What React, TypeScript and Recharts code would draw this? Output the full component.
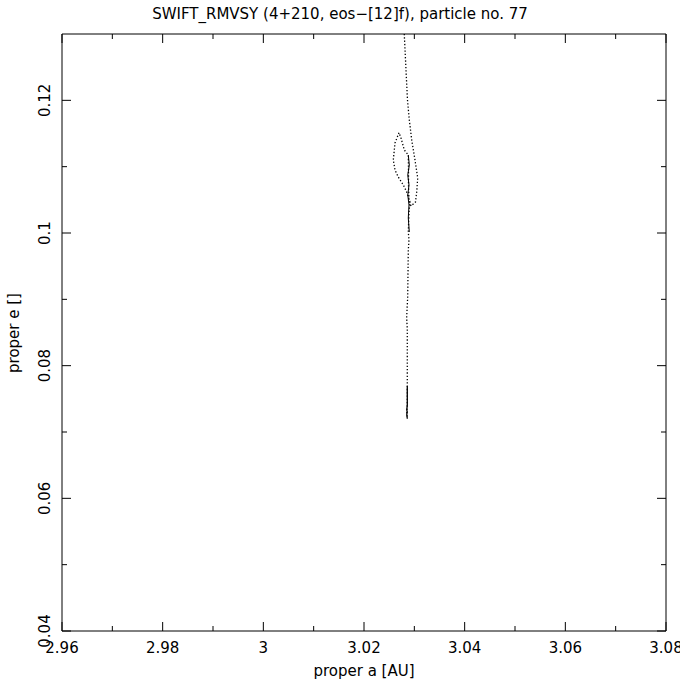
import React from 'react';
import { LineChart, Line, XAxis, YAxis, Label } from 'recharts';

const titleText = 'SWIFT_RMVSY (4+210, eos\u2212[12]f), particle no. 77';
const xAxisTitle = 'proper a [AU]';
const yAxisTitle = 'proper e []';

const xMajorTicks = [2.96, 2.98, 3.0, 3.02, 3.04, 3.06, 3.08];
const xMajorLabels = ['2.96', '2.98', '3', '3.02', '3.04', '3.06', '3.08'];
const xMinorTicks = [2.97, 2.99, 3.01, 3.03, 3.05, 3.07];
const yMajorTicks = [0.04, 0.06, 0.08, 0.1, 0.12];
const yMajorLabels = ['0.04', '0.06', '0.08', '0.1', '0.12'];
const yMinorTicks = [0.05, 0.07, 0.09, 0.11];

// proper a / proper e trajectory (dotted)
const trackA = [
  3.028, 3.02825, 3.02844, 3.02864, 3.029, 3.02948, 3.03013, 3.03067, 3.03047, 3.03023,
  3.02934, 3.02894, 3.02884, 3.02884, 3.0288, 3.02801, 3.02735, 3.02695, 3.02616, 3.02582,
  3.02616, 3.02681, 3.02781, 3.02848, 3.02914, 3.02894, 3.0288, 3.02894, 3.0288, 3.02868,
  3.02848, 3.0286, 3.0286, 3.0286, 3.0285, 3.0286,
];
const trackE = [
  0.13, 0.12608, 0.12307, 0.12005, 0.11704, 0.11402, 0.11101, 0.10829, 0.10618, 0.10467,
  0.10407, 0.10498, 0.10724, 0.1095, 0.11176, 0.11251, 0.11432, 0.11512, 0.11357, 0.11101,
  0.1095, 0.10844, 0.10724, 0.10618, 0.10467, 0.10317, 0.10015, 0.09894, 0.09744, 0.09035,
  0.08734, 0.08538, 0.07693, 0.07407, 0.07302, 0.07211,
];

// densely sampled stretches (appear solid)
const denseMidA = [3.0288, 3.029, 3.0287, 3.02894, 3.0287, 3.02894, 3.0288, 3.029];
const denseMidE = [0.11176, 0.11025, 0.10874, 0.10724, 0.10573, 0.10422, 0.10226, 0.10015];
const denseLowA = [3.0286, 3.0286, 3.0285, 3.0286, 3.0285, 3.0286];
const denseLowE = [0.07693, 0.07407, 0.07332, 0.07302, 0.07271, 0.072];

const zip = (a: number[], e: number[]) => a.map((v, i) => ({ a: v, e: e[i] }));
const track = zip(trackA, trackE);
const denseMid = zip(denseMidA, denseMidE);
const denseLow = zip(denseLowA, denseLowE);

const FONT = '"DejaVu Sans", sans-serif';
const FS = 15;
const MAJOR = 9;
const MINOR = 5;

const idxOf = (v: number, arr: number[]) => arr.findIndex((t) => Math.abs(t - v) < 1e-9);

const BottomTick = (props: any) => {
  const { x, y, payload } = props;
  const i = idxOf(payload.value, xMajorTicks);
  const major = i >= 0;
  return (
    <g>
      <line x1={x} x2={x} y1={y} y2={y - (major ? MAJOR : MINOR)} stroke="#000" strokeWidth={1} />
      {major && (
        <text x={x} y={y + 22} textAnchor="middle" fontFamily={FONT} fontSize={FS} fill="#000">
          {xMajorLabels[i]}
        </text>
      )}
    </g>
  );
};

const TopTick = (props: any) => {
  const { x, y, payload } = props;
  const major = idxOf(payload.value, xMajorTicks) >= 0;
  return <line x1={x} x2={x} y1={y} y2={y + (major ? MAJOR : MINOR)} stroke="#000" strokeWidth={1} />;
};

const LeftTick = (props: any) => {
  const { x, y, payload } = props;
  const i = idxOf(payload.value, yMajorTicks);
  const major = i >= 0;
  const lx = x - 12;
  return (
    <g>
      <line x1={x} x2={x + (major ? MAJOR : MINOR)} y1={y} y2={y} stroke="#000" strokeWidth={1} />
      {major && (
        <text
          x={lx}
          y={y}
          transform={`rotate(-90 ${lx} ${y})`}
          textAnchor="middle"
          fontFamily={FONT}
          fontSize={FS}
          fill="#000"
        >
          {yMajorLabels[i]}
        </text>
      )}
    </g>
  );
};

const RightTick = (props: any) => {
  const { x, y, payload } = props;
  const major = idxOf(payload.value, yMajorTicks) >= 0;
  return <line x1={x} x2={x - (major ? MAJOR : MINOR)} y1={y} y2={y} stroke="#000" strokeWidth={1} />;
};

export default function App() {
  const xTicks = [...xMajorTicks, ...xMinorTicks];
  const yTicks = [...yMajorTicks, ...yMinorTicks];
  const axisLine = { stroke: '#000', strokeWidth: 1 };
  return (
    <div style={{ position: 'absolute', left: 0, top: 0, width: 680, height: 680, background: '#fff' }}>
      <LineChart width={680} height={680} margin={{ top: 33, right: 13, bottom: 0, left: 0 }}>
        <XAxis
          type="number"
          dataKey="a"
          domain={[2.96, 3.08]}
          allowDataOverflow
          ticks={xTicks}
          interval={0}
          tickSize={0}
          tickMargin={0}
          tickLine={false}
          axisLine={axisLine}
          tick={BottomTick}
          height={49}
        >
          <Label
            content={() => (
              <text x={364} y={676} textAnchor="middle" fontFamily={FONT} fontSize={FS} fill="#000">
                {xAxisTitle}
              </text>
            )}
          />
        </XAxis>
        <XAxis
          xAxisId="top"
          orientation="top"
          type="number"
          dataKey="a"
          domain={[2.96, 3.08]}
          allowDataOverflow
          ticks={xTicks}
          interval={0}
          tickSize={0}
          tickMargin={0}
          tickLine={false}
          axisLine={axisLine}
          tick={TopTick}
          height={1}
        >
          <Label
            content={() => (
              <text x={340} y={19} textAnchor="middle" fontFamily={FONT} fontSize={FS} fill="#000">
                {titleText}
              </text>
            )}
          />
        </XAxis>
        <YAxis
          type="number"
          dataKey="e"
          domain={[0.04, 0.13]}
          allowDataOverflow
          ticks={yTicks}
          interval={0}
          tickSize={0}
          tickMargin={0}
          tickLine={false}
          axisLine={axisLine}
          tick={LeftTick}
          width={62}
        >
          <Label
            content={() => (
              <text
                x={19}
                y={333}
                transform="rotate(-90 19 333)"
                textAnchor="middle"
                fontFamily={FONT}
                fontSize={FS}
                fill="#000"
              >
                {yAxisTitle}
              </text>
            )}
          />
        </YAxis>
        <YAxis
          yAxisId="right"
          orientation="right"
          type="number"
          dataKey="e"
          domain={[0.04, 0.13]}
          allowDataOverflow
          ticks={yTicks}
          interval={0}
          tickSize={0}
          tickMargin={0}
          tickLine={false}
          axisLine={axisLine}
          tick={RightTick}
          width={1}
        />
        <Line
          data={track}
          dataKey="e"
          type="linear"
          stroke="#000"
          strokeWidth={1.3}
          strokeDasharray="1.3 2"
          dot={false}
          activeDot={false}
          isAnimationActive={false}
        />
        <Line
          data={denseMid}
          dataKey="e"
          type="linear"
          stroke="#000"
          strokeWidth={1}
          dot={false}
          activeDot={false}
          isAnimationActive={false}
        />
        <Line
          data={denseLow}
          dataKey="e"
          type="linear"
          stroke="#000"
          strokeWidth={1.3}
          dot={false}
          activeDot={false}
          isAnimationActive={false}
        />
      </LineChart>
    </div>
  );
}
